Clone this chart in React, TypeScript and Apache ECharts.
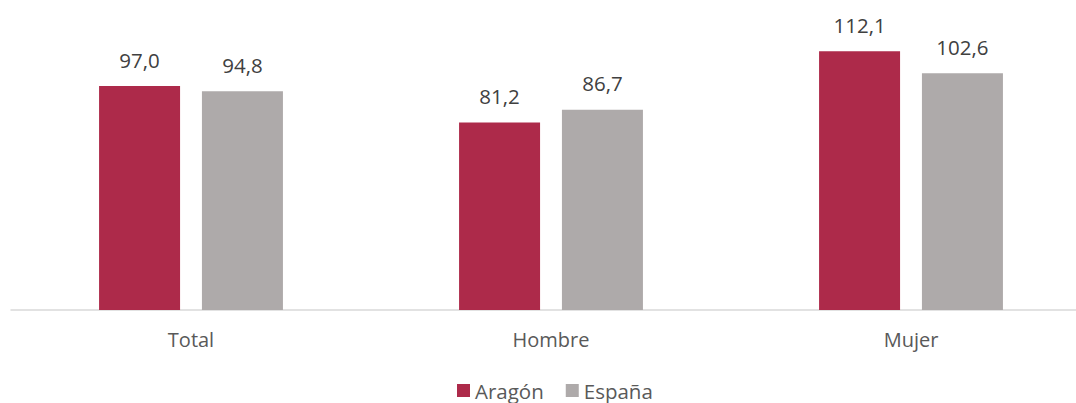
import React, { useEffect, useRef } from "react";
import * as echarts from "echarts";

const categories = ["Total", "Hombre", "Mujer"];
const aragon = [97.0, 81.2, 112.1];
const espana = [94.8, 86.7, 102.6];
const seriesNames = ["Aragón", "España"];

const fmt = (v: number) => v.toFixed(1).replace(".", ",");

export default function App() {
  const ref = useRef<HTMLDivElement>(null);
  useEffect(() => {
    document.body.style.margin = "0";
    document.body.style.overflow = "hidden";
    const chart = echarts.init(ref.current!, null, { renderer: "svg" });
    const font = "'Open Sans', sans-serif";
    const label = {
      show: true,
      position: "top" as const,
      distance: 16,
      color: "#404040",
      fontSize: 20.5,
      fontFamily: font,
      formatter: (p: any) => fmt(p.value),
    };
    chart.setOption({
      animation: false,
      grid: { left: 11, right: 0, top: 33, bottom: 93, containLabel: false },
      legend: {
        data: seriesNames,
        bottom: -3,
        left: 452,
        itemWidth: 13,
        itemHeight: 13,
        itemGap: 22,
        icon: "rect",
        textStyle: { fontSize: 20.5, color: "#595959", fontFamily: font },
      },
      xAxis: {
        type: "category",
        data: categories,
        axisLine: { lineStyle: { color: "#D9D9D9", width: 1.5 } },
        axisTick: { show: false },
        axisLabel: { fontSize: 20, color: "#595959", fontFamily: font, margin: 19 },
      },
      yAxis: {
        type: "value",
        min: 0,
        max: 120,
        show: false,
        splitLine: { show: false },
      },
      series: [
        {
          name: seriesNames[0],
          type: "bar",
          data: aragon,
          barWidth: 81,
          barGap: "27%",
          itemStyle: { color: "#AD2A4A" },
          label,
        },
        {
          name: seriesNames[1],
          type: "bar",
          data: espana,
          barWidth: 81,
          itemStyle: { color: "#AEAAAA" },
          label,
        },
      ],
    });
    return () => chart.dispose();
  }, []);
  return (
    <div style={{ width: 1076, height: 403, overflow: "hidden" }}>
      <div ref={ref} style={{ width: 1091, height: 403 }} />
    </div>
  );
}
